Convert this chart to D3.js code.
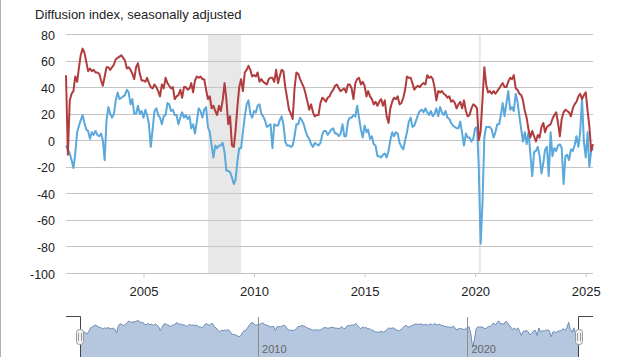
<!DOCTYPE html>
<html>
<head>
<meta charset="utf-8">
<script src="https://cdn.jsdelivr.net/npm/d3@7"></script>
<style>
  html, body { margin: 0; padding: 0; background: #fff; }
  svg { display: block; font-family: "Liberation Sans", Arial, sans-serif; }
</style>
</head>
<body>
<svg id="chart" width="617" height="357"></svg>
<script>
// ---- Data (monthly, starting July 2001) ----
const startYear = 2001, startMonth = 6; // July 2001 (0-based month)
const chartTitle = "Diffusion index, seasonally adjusted";

// Current general business conditions (blue)
const currentIndex = [
  -4, -7, -10, -15, -21, -10,                        // 2001 Jul-Dec
  6, 11, 15, 19, 13, 8, 7, 1, 6, 4, 7, 4,            // 2002
  3, 5, 0, -15, 15, 25, 20, 17, 20, 30, 36, 31,      // 2003
  32, 33, 34, 38, 36, 27, 31, 20, 20, 26, 20, 22,    // 2004
  17, 23, 19, 12, -5, 8, 22, 24, 19, 17, 12, 18,     // 2005
  19, 28, 27, 22, 23, 19, 19, 12, 17, 21, 17, 19,    // 2006
  16, 18, 9, 12, 5, 14, 24, 22, 17, 23, 25, 10,      // 2007
  6, -4, -13, -4, -6, -4, -4, -2, -9, -23, -23, -24, // 2008
  -28, -33, -30, -16, -6, -6, 6, 18, 27, 30, 20, 17, // 2009
  22, 21, 26, 27, 20, 18, 15, 10, 11, 12, -6, 12,    // 2010
  11, 11, 15, 18, 12, -1, -4, -4, -5, -4, 3, 12,     // 2011
  12, 17, 15, 12, 7, 3, 1, -3, -5, -2, -3, -4,       // 2012
  -2, 4, 7, 7, 4, 6, 8, 9, 5, 5, 3, 5,               // 2013
  12, 3, 3, 14, 17, 17, 19, 18, 26, 17, 8, 2,        // 2014
  11, 6, 8, 1, 3, -3, -4, -12, -12, -13, -11, -10,   // 2015
  -13, -8, 0, 6, 3, 6, 5, -2, -5, -7, 0, 6,          // 2016
  14, 17, 10, 11, 15, 19, 22, 23, 21, 24, 21, 19,    // 2017
  22, 18, 20, 24, 18, 25, 21, 19, 22, 17, 16, 13,    // 2018
  11, 10, 9, 9, 14, 5, -4, 5, 2, 2, -1, 1,           // 2019
  9, 10, -20, -78, -48, 2, 10, 10, 10, 8, 2, 6,      // 2020
  12, 12, 19, 28, 18, 28, 37, 23, 25, 22, 35, 29,    // 2021
  18, 8, -1, 6, -3, 6, -10, -27, -9, -8, -5, -12,    // 2022
  -25, -17, -7, -5, -27, 6, -12, -6, -8, -4, -3, -6, // 2023
  -33, -12, -11, -15, -7, -8, -4, 3, -5, 6, 31, -1,  // 2024
  -13, 6, -20, -8, -6                                // 2025 Jan-May
];

// Future general business conditions (red)
const futureIndex = [
  49, -11, 30, 35, 37, 48,                           // 2001 Jul-Dec
  44, 55, 64, 69, 66, 59, 52, 54, 52, 53, 51, 51,    // 2002
  50, 45, 41, 48, 55, 55, 53, 55, 57, 61, 62, 63,    // 2003
  64, 62, 60, 54, 55, 53, 50, 46, 55, 58, 50, 45,    // 2004
  45, 44, 47, 43, 40, 39, 42, 40, 37, 33, 42, 39,    // 2005
  47, 43, 41, 39, 40, 31, 33, 34, 38, 32, 40, 40,    // 2006
  38, 39, 43, 36, 45, 48, 47, 48, 46, 46, 38, 31,    // 2007
  33, 24, 26, 22, 19, 26, 22, 30, 43, 31, 12, 18,    // 2008
  -4, -5, 7, 25, 40, 46, 37, 51, 53, 56, 53, 48,     // 2009
  49, 48, 51, 44, 46, 44, 43, 42, 46, 47, 47, 44,    // 2010
  53, 43, 48, 53, 52, 40, 32, 23, 20, 16, 39, 51,    // 2011
  50, 46, 43, 40, 35, 29, 23, 27, 21, 18, 19, 19,    // 2012
  28, 32, 31, 29, 32, 33, 36, 38, 41, 42, 39, 37,    // 2013
  38, 39, 36, 42, 42, 39, 31, 43, 46, 47, 42, 44,    // 2014
  41, 33, 37, 33, 31, 27, 29, 26, 29, 31, 26, 30,    // 2015
  18, 13, 24, 29, 32, 31, 33, 27, 28, 32, 38, 48,    // 2016
  47, 47, 43, 38, 40, 41, 40, 42, 43, 42, 49, 47,    // 2017
  48, 46, 40, 30, 37, 36, 37, 35, 34, 32, 33, 29,    // 2018
  30, 28, 24, 27, 29, 24, 30, 22, 18, 19, 24, 27,    // 2019
  26, 24, 0, 7, 30, 55, 42, 36, 37, 35, 37, 35,      // 2020
  37, 39, 41, 43, 40, 40, 44, 47, 46, 49, 39, 38,    // 2021
  35, 34, 30, 22, 17, 8, 2, 7, 3, -1, 4, 2,          // 2022
  10, 13, 6, 10, 11, 12, 16, 19, 21, 13, 3, 16,      // 2023
  21, 23, 22, 21, 18, 24, 27, 29, 33, 35, 31, 34,    // 2024
  36, 22, 11, -8, -3                                 // 2025 Jan-May
];

const yTicks = [80, 60, 40, 20, 0, -20, -40, -60, -80, -100];
const xTickYears = [2005, 2010, 2015, 2020, 2025];
const navTickYears = [2010, 2020];
// Recession shading [start, end] as [year, month(1-12)]
const recessions = [[[2007, 12], [2009, 6]], [[2020, 3], [2020, 4]]];

// ---- Build ----
const dates = currentIndex.map((_, i) => new Date(startYear, startMonth + i, 1));
const svg = d3.select("#chart");

const x = d3.scaleTime()
  .domain([dates[0], dates[dates.length - 1]])
  .range([66, 593]);
const y = d3.scaleLinear().domain([-100, 80]).range([273, 34]);

// left border line
svg.append("line").attr("x1", 0.5).attr("x2", 0.5).attr("y1", 0).attr("y2", 357)
  .attr("stroke", "#b0b0b0").attr("stroke-width", 1);

// title
svg.append("text").attr("x", 35).attr("y", 19)
  .attr("font-size", 13).attr("fill", "#222").text(chartTitle);

// recession bands
svg.append("g").selectAll("rect").data(recessions).join("rect")
  .attr("x", d => x(new Date(d[0][0], d[0][1] - 1, 1)))
  .attr("width", d => Math.max(2, x(new Date(d[1][0], d[1][1] - 1, 1)) - x(new Date(d[0][0], d[0][1] - 1, 1))))
  .attr("y", y(80)).attr("height", y(-100) - y(80))
  .attr("fill", "#e8e8e8");

// y grid + labels
const yAxis = d3.axisLeft(y).tickValues(yTicks).tickFormat(d => String(d))
  .tickSize(-(593 - 66)).tickPadding(11);
const gy = svg.append("g").attr("transform", "translate(66,0)").call(yAxis);
gy.select(".domain").remove();
gy.selectAll(".tick line").attr("stroke", "#c4c4c4").attr("shape-rendering", "crispEdges");
gy.selectAll(".tick text").attr("font-size", 12.5).attr("fill", "#222")
  .attr("font-family", "Liberation Sans, Arial, sans-serif").attr("dy", "0.4em");

// x axis
const xAxis = d3.axisBottom(x)
  .tickValues(xTickYears.map(yv => new Date(yv, 0, 1)))
  .tickFormat(d3.timeFormat("%Y")).tickSize(4).tickPadding(10);
const gx = svg.append("g").attr("transform", "translate(0,273)").call(xAxis);
gx.select(".domain").attr("stroke", "#c4c4c4").attr("d", "M66,0.5H593");
gx.selectAll(".tick line").attr("stroke", "#c4c4c4");
gx.selectAll(".tick text").attr("font-size", 13).attr("fill", "#222")
  .attr("font-family", "Liberation Sans, Arial, sans-serif");

// lines
const line = d3.line().x((d, i) => x(dates[i])).y(d => y(d));
svg.append("path").datum(currentIndex).attr("d", line)
  .attr("fill", "none").attr("stroke", "#5aa8dc").attr("stroke-width", 2)
  .attr("stroke-linejoin", "round");
svg.append("path").datum(futureIndex).attr("d", line)
  .attr("fill", "none").attr("stroke", "#b03c3e").attr("stroke-width", 2)
  .attr("stroke-linejoin", "round");

// ---- Navigator ----
const nx = d3.scaleTime().domain(x.domain()).range([80, 579]);
const ny = d3.scaleLinear().domain([-80, 45]).range([347.5, 319]);
const area = d3.area().x((d, i) => nx(dates[i])).y0(362).y1(d => ny(d));
const navLine = d3.line().x((d, i) => nx(dates[i])).y(d => ny(d));
svg.append("path").datum(currentIndex).attr("d", area).attr("fill", "#b5c7df");
svg.append("path").datum(currentIndex).attr("d", navLine)
  .attr("fill", "none").attr("stroke", "#6d8cb6").attr("stroke-width", 1);

// navigator grid lines & labels
const ng = svg.append("g").selectAll("g").data(navTickYears).join("g");
ng.append("line")
  .attr("x1", d => Math.round(nx(new Date(d, 0, 1))) + 0.5)
  .attr("x2", d => Math.round(nx(new Date(d, 0, 1))) + 0.5)
  .attr("y1", 317).attr("y2", 357).attr("stroke", "#8c8c8c").attr("stroke-width", 1);
ng.append("text").attr("x", d => nx(new Date(d, 0, 1)) + 4).attr("y", 353)
  .attr("font-size", 11).attr("fill", "#666").text(d => d);

// navigator outline
const L = nx.range()[0], R = nx.range()[1];
svg.append("path")
  .attr("d", `M66,316.5H${L + 0.5}V357M${R - 0.5},357V316.5H593`)
  .attr("fill", "none").attr("stroke", "#444").attr("stroke-width", 1);

// handles
[L, R].forEach(hx => {
  const g = svg.append("g").attr("transform", `translate(${Math.round(hx)},0)`);
  g.append("rect").attr("x", -3.5).attr("y", 329.5).attr("width", 7).attr("height", 15)
    .attr("rx", 3).attr("fill", "#f2f2f2").attr("stroke", "#999");
  g.append("path").attr("d", "M-1.5,333V341M1.5,333V341").attr("stroke", "#999");
});
</script>
</body>
</html>
